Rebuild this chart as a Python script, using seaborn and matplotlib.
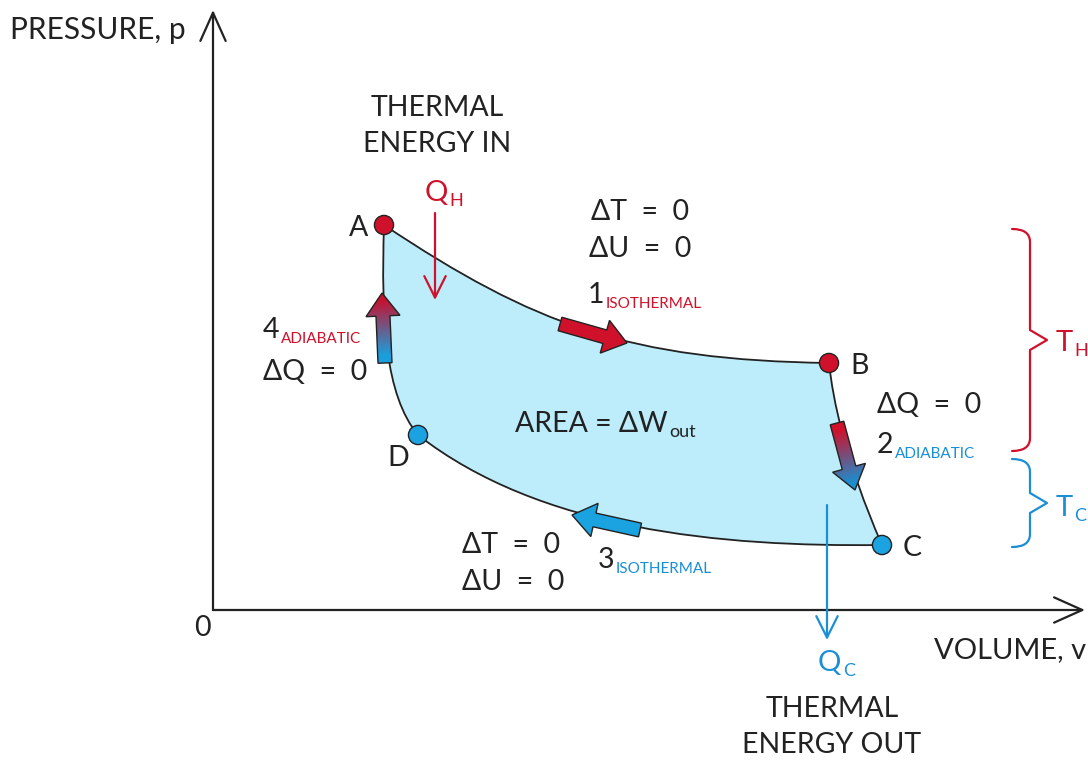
import numpy as np
import matplotlib
matplotlib.use("Agg")
import matplotlib.pyplot as plt
from matplotlib.path import Path
from matplotlib.patches import PathPatch, Polygon
from matplotlib.colors import LinearSegmentedColormap
import pandas as pd
import seaborn as sns

RED = "#d0112b"
BLUE = "#1a8fd6"
DOT_BLUE = "#1aa3e0"
INK = "#222222"
FILL = "#bdedfb"

# state points of the cycle (volume, pressure)
STATES = ["A", "B", "C", "D"]
VOLUME = [1.71, 6.16, 6.69, 2.05]
PRESSURE = [3.85, 2.47, 0.65, 1.75]
STATE_COLORS = [RED, RED, DOT_BLUE, DOT_BLUE]

# bezier control points for strokes A->B, B->C, C->D, D->A
CTRL_V = [[3.21, 4.16], [6.20, 6.32], [5.07, 3.27], [1.72, 1.68]]
CTRL_P = [[2.85, 2.50], [2.10, 1.50], [0.63, 0.80], [2.15, 2.90]]

# process arrows: tail / tip and colours (tail colour, tip colour)
ARROW_TAIL_V = [3.47, 6.24, 4.27, 1.72]
ARROW_TAIL_P = [2.86, 1.87, 0.80, 2.47]
ARROW_TIP_V = [4.14, 6.42, 3.59, 1.69]
ARROW_TIP_P = [2.67, 1.20, 0.95, 3.17]
ARROW_COLORS = [(RED, RED), (RED, "#1a8fd0"), ("#1aa3e0", "#1aa3e0"), ("#1a9fdc", "#c8102e")]


def fat_arrow(ax, tail, tip, c_tail, c_tip, body=0.14, head_w=0.34, head_l=0.23):
    tail = np.array(tail)
    tip = np.array(tip)
    d = tip - tail
    L = np.hypot(*d)
    u = d / L
    n = np.array([-u[1], u[0]])
    base = tip - u * head_l
    pts = [tail + n * body / 2, base + n * body / 2, base + n * head_w / 2, tip,
           base - n * head_w / 2, base - n * body / 2, tail - n * body / 2]
    poly = Polygon(pts, closed=True, facecolor="none", edgecolor=INK, lw=1.0, zorder=6)
    ax.add_patch(poly)
    xs = [p[0] for p in pts]
    ys = [p[1] for p in pts]
    x0, x1, y0, y1 = min(xs), max(xs), min(ys), max(ys)
    gx, gy = np.meshgrid(np.linspace(x0, x1, 80), np.linspace(y0, y1, 80))
    t = ((gx - tail[0]) * u[0] + (gy - tail[1]) * u[1]) / L
    cmap = LinearSegmentedColormap.from_list("g", [c_tail, c_tip])
    im = ax.imshow(t, extent=(x0, x1, y0, y1), origin="lower", cmap=cmap, vmin=0.1, vmax=0.9,
                   aspect="auto", zorder=5, interpolation="bilinear")
    im.set_clip_path(poly)


def sub_label(ax, x, y, main, sub, main_color, sub_color, size=20.5, sub_size=11, ha="left"):
    t = ax.text(x, y, main, color=main_color, fontsize=size, ha=ha, va="center", zorder=8)
    ax.annotate(sub, xy=(1, 0), xycoords=t, xytext=(1, -2.5), textcoords="offset points",
                color=sub_color, fontsize=sub_size, ha="left", va="bottom", zorder=8)
    return t


def brace(ax, x_left, x_line, x_tip, top, tip, bottom, color):
    verts = [(x_left, top), (x_line, top), (x_line, top - 0.13),
             (x_line, tip + 0.10), (x_tip, tip), (x_line, tip - 0.10),
             (x_line, bottom + 0.13), (x_line, bottom), (x_left, bottom)]
    codes = [Path.MOVETO, Path.CURVE3, Path.CURVE3,
             Path.LINETO, Path.LINETO, Path.LINETO,
             Path.LINETO, Path.CURVE3, Path.CURVE3]
    ax.add_patch(PathPatch(Path(verts, codes), facecolor="none", edgecolor=color, lw=1.6,
                           capstyle="round", joinstyle="round"))


sns.set_theme(style="white")
plt.rcParams["font.family"] = ["Lato", "DejaVu Sans"]
FS = 20.5

fig = plt.figure(figsize=(10.88, 7.6), dpi=100)
ax = fig.add_axes([0, 0, 1, 1])

# cycle outline and enclosed area
verts = [(VOLUME[0], PRESSURE[0])]
codes = [Path.MOVETO]
for i in range(4):
    j = (i + 1) % 4
    verts += [(CTRL_V[i][0], CTRL_P[i][0]), (CTRL_V[i][1], CTRL_P[i][1]), (VOLUME[j], PRESSURE[j])]
    codes += [Path.CURVE4] * 3
cycle = Path(verts, codes)
ax.add_patch(PathPatch(cycle, facecolor=FILL, edgecolor=INK, lw=1.3, zorder=3))

# process arrows
for i in range(4):
    fat_arrow(ax, (ARROW_TAIL_V[i], ARROW_TAIL_P[i]), (ARROW_TIP_V[i], ARROW_TIP_P[i]),
              ARROW_COLORS[i][0], ARROW_COLORS[i][1])

# state points
df = pd.DataFrame({"volume": VOLUME, "pressure": PRESSURE, "state": STATES})
sns.scatterplot(data=df, x="volume", y="pressure", hue="state",
                palette=dict(zip(STATES, STATE_COLORS)), s=190, edgecolor=INK,
                linewidth=1.0, legend=False, zorder=7, ax=ax)

# axes with open arrowheads
axis_style = dict(arrowstyle="->,head_length=1.45,head_width=0.65", lw=1.6, color=INK,
                  mutation_scale=14, shrinkA=0, shrinkB=0)
ax.annotate("", xy=(0, 6.0), xytext=(0, 0), arrowprops=axis_style, zorder=4)
ax.annotate("", xy=(8.72, 0), xytext=(0, 0), arrowprops=axis_style, zorder=4)

ax.text(-2.03, 5.80, "PRESSURE, p", fontsize=21.5, color=INK, ha="left", va="center")
ax.text(-0.11, -0.18, "0", fontsize=FS, color=INK, ha="center", va="center")
ax.text(8.73, -0.40, "VOLUME, v", fontsize=21, color=INK, ha="right", va="center")

# heat flow arrows
heat_style = dict(arrowstyle="->,head_length=1.1,head_width=0.55", lw=1.6,
                  mutation_scale=14, shrinkA=0, shrinkB=0)
ax.annotate("", xy=(2.22, 3.10), xytext=(2.22, 3.97), arrowprops=dict(heat_style, color=RED), zorder=6)
ax.annotate("", xy=(6.14, -0.30), xytext=(6.14, 1.05), arrowprops=dict(heat_style, color=BLUE), zorder=6)

ax.text(2.24, 4.84, "THERMAL\nENERGY IN", fontsize=FS, color=INK, ha="center", va="center",
        linespacing=1.5)
ax.text(6.19, -1.17, "THERMAL\nENERGY OUT", fontsize=FS, color=INK, ha="center", va="center",
        linespacing=1.5)
sub_label(ax, 2.12, 4.17, "Q", "H", RED, RED, size=21, sub_size=13)
sub_label(ax, 6.05, -0.53, "Q", "C", BLUE, BLUE, size=21, sub_size=13)

# state labels
ax.text(1.55, 3.82, "A", fontsize=FS, color=INK, ha="right", va="center")
ax.text(6.37, 2.44, "B", fontsize=FS, color=INK, ha="left", va="center")
ax.text(6.90, 0.62, "C", fontsize=FS, color=INK, ha="left", va="center")
ax.text(1.85, 1.52, "D", fontsize=FS, color=INK, ha="center", va="center")

# process annotations
ax.text(4.27, 3.98, "ΔT  =  0", fontsize=FS, color=INK, ha="center", va="center")
ax.text(4.27, 3.61, "ΔU  =  0", fontsize=FS, color=INK, ha="center", va="center")
sub_label(ax, 3.75, 3.15, "1", "ISOTHERMAL", INK, RED)
sub_label(ax, 6.64, 1.65, "2", "ADIABATIC", INK, BLUE)
ax.text(6.64, 2.05, "ΔQ  =  0", fontsize=FS, color=INK, ha="left", va="center")
sub_label(ax, 3.85, 0.50, "3", "ISOTHERMAL", INK, BLUE)
ax.text(2.49, 0.65, "ΔT  =  0", fontsize=FS, color=INK, ha="left", va="center")
ax.text(2.49, 0.28, "ΔU  =  0", fontsize=FS, color=INK, ha="left", va="center")
sub_label(ax, 0.50, 2.80, "4", "ADIABATIC", INK, RED)
ax.text(0.50, 2.38, "ΔQ  =  0", fontsize=FS, color=INK, ha="left", va="center")
sub_label(ax, 3.02, 1.86, "AREA = ΔW", "out", INK, INK, sub_size=13)

# temperature braces
brace(ax, 7.99, 8.17, 8.34, 3.81, 2.70, 1.59, RED)
brace(ax, 7.99, 8.17, 8.34, 1.51, 1.07, 0.63, BLUE)
sub_label(ax, 8.43, 2.67, "T", "H", RED, RED, size=21, sub_size=13)
sub_label(ax, 8.43, 1.02, "T", "C", BLUE, BLUE, size=21, sub_size=13)

ax.set_xlim(-2.13, 8.75)
ax.set_ylim(-1.50, 6.10)
ax.axis("off")

fig.savefig("out.png", dpi=100, facecolor="white")
